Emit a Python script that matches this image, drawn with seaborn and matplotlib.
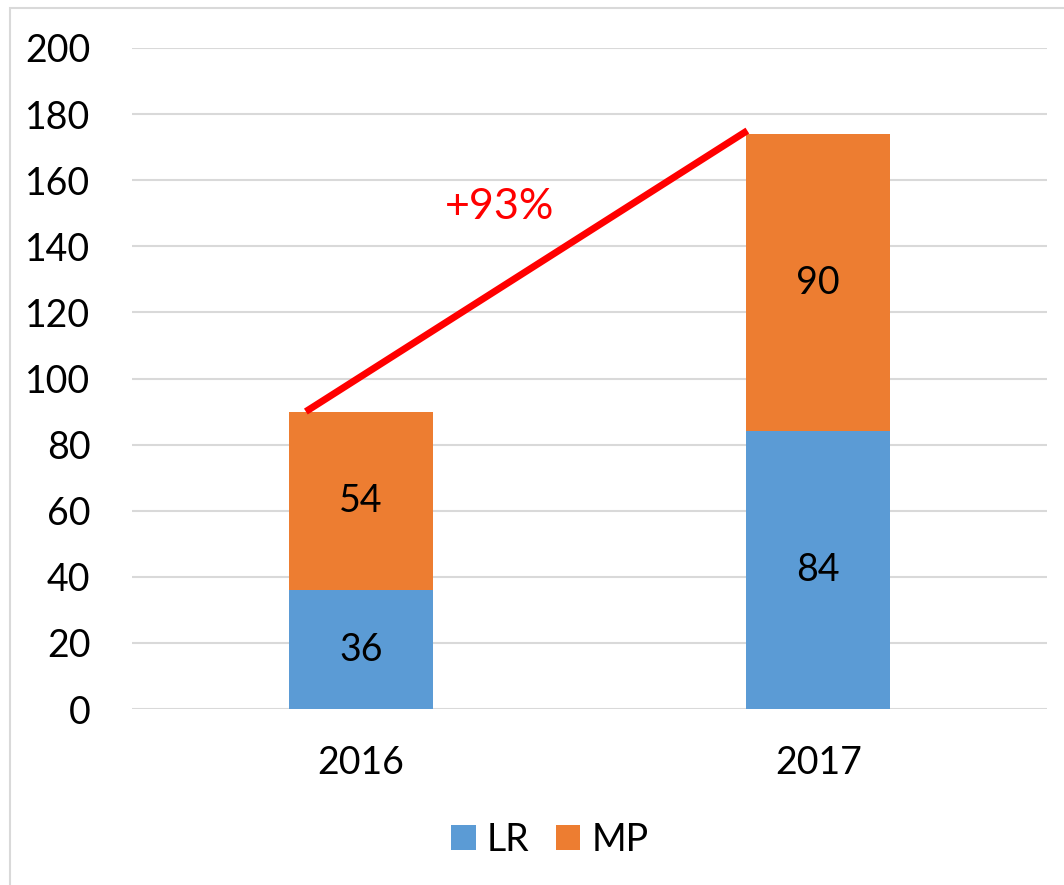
import seaborn as sns
import matplotlib.pyplot as plt
import pandas as pd
from matplotlib.patches import Rectangle

years = ["2016", "2017"]
lr = [36, 84]
mp = [54, 90]
totals = [a + b for a, b in zip(lr, mp)]
growth = round((totals[1] / totals[0] - 1) * 100)

df = pd.DataFrame({"Year": years, "LR": lr, "MP": mp, "Total": totals})

sns.set_style("white")
plt.rcParams['font.family'] = ['Lato', 'DejaVu Sans']
plt.rcParams['text.color'] = 'black'
plt.rcParams['xtick.color'] = 'black'
plt.rcParams['ytick.color'] = 'black'

blue = "#5b9bd5"
orange = "#ed7d31"
fs = 27

fig = plt.figure(figsize=(10.64, 8.85), dpi=100)
ax = fig.add_axes([132 / 1064, 1 - 709 / 885, 915 / 1064, 661 / 885])

sns.barplot(data=df, x="Year", y="Total", color=orange, width=0.314,
            saturation=1, ax=ax, zorder=2, label="MP", linewidth=0)
sns.barplot(data=df, x="Year", y="LR", color=blue, width=0.314,
            saturation=1, ax=ax, zorder=3, label="LR", linewidth=0)

for i in range(len(years)):
    ax.text(i, lr[i] / 2, str(lr[i]), ha="center", va="center", fontsize=fs, zorder=5)
    ax.text(i, lr[i] + mp[i] / 2, str(mp[i]), ha="center", va="center", fontsize=fs, zorder=5)

# growth line from top of 2016 bar to top of 2017 bar
ax.plot([-0.12, 0.845], [totals[0], totals[1] + 1], color="red", lw=5,
        solid_capstyle="butt", zorder=6)
ax.text(0.303, 152, f"+{growth}%", color="red", ha="center", va="center", fontsize=31)

ax.set_ylim(0, 200)
ax.set_xlim(-0.5, 1.5)
ax.set_yticks(range(0, 201, 20))
ax.yaxis.grid(True, color="#d9d9d9", lw=1.5, zorder=0)
ax.set_axisbelow(True)
for s in ax.spines.values():
    s.set_visible(False)
ax.tick_params(axis="both", length=0, labelsize=fs)
ax.tick_params(axis="y", pad=30)
ax.tick_params(axis="x", pad=26)
ax.set_xlabel("")
ax.set_ylabel("")

handles, labels = ax.get_legend_handles_labels()
order = [labels.index("LR"), labels.index("MP")]
leg = ax.legend([handles[k] for k in order], ["LR", "MP"], loc="center",
                bbox_to_anchor=(550 / 1064, 1 - 840 / 885), bbox_transform=fig.transFigure,
                ncol=2, frameon=False, fontsize=fs, handlelength=0.65, handleheight=0.65,
                handletextpad=0.3, columnspacing=0.7)

fig.patches.append(Rectangle((10 / 1064, -0.1), 1.2, 1 - 8 / 885 + 0.1,
                             transform=fig.transFigure, fill=False,
                             edgecolor="#d9d9d9", lw=1.5))

fig.savefig("out.png", dpi=100)
